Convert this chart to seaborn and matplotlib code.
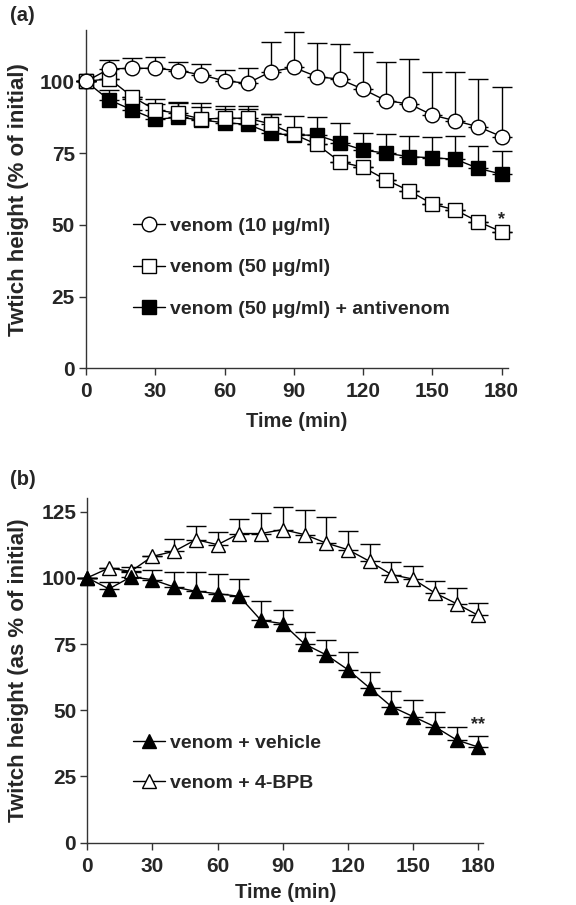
import numpy as np
import matplotlib
matplotlib.use("Agg")
import matplotlib.pyplot as plt
import seaborn as sns

# time points (min)
t = list(range(0, 181, 10))

# panel (a)
v10 = [100, 104.4, 104.6, 104.6, 103.8, 102.3, 100.2, 99.4, 103.4, 104.9,
       101.7, 100.8, 97.3, 93.3, 92.2, 88.3, 86.3, 84.2, 80.8]
v10_err = [0, 3.1, 3.6, 3.8, 3.0, 3.8, 3.8, 5.4, 10.3, 12.4,
           11.6, 12.4, 13.0, 13.6, 15.5, 15.0, 17.0, 16.7, 17.4]
v50 = [100, 101, 94.7, 90.1, 88.9, 86.9, 87.2, 87.2, 85.2, 81.6,
       78.1, 72.0, 70.1, 65.7, 61.9, 57.3, 55.2, 51.1, 47.6]
v50_err = [0, 0, 0, 3.8, 4.1, 5.5, 4.3, 4.3, 3.5, 0,
           0, 0, 0, 0, 0, 0, 0, 0, 0]
v50av = [100, 93.6, 90.1, 86.8, 87.5, 86.6, 85.6, 85.1, 81.9, 81.3,
         81.3, 78.7, 76.1, 75.0, 73.8, 73.4, 72.9, 69.7, 67.7]
v50av_err = [0, 3.4, 3.9, 5.2, 5.0, 4.4, 4.9, 5.4, 6.6, 6.7,
             6.2, 6.9, 6.1, 6.6, 7.2, 7.4, 8.1, 7.9, 8.2]

# panel (b)
veh = [100, 95.8, 100.3, 99.3, 96.5, 94.9, 94.0, 93.0, 83.9, 82.7,
       75.0, 70.9, 65.3, 58.4, 51.4, 47.6, 43.8, 38.8, 36.1]
veh_err = [0, 2.6, 1.7, 3.7, 5.5, 7.1, 7.6, 6.7, 7.4, 5.2,
           4.7, 5.7, 6.5, 6.2, 6.0, 6.3, 5.7, 4.8, 4.2]
bpb = [100, 103.7, 102.4, 108.1, 110.0, 114.4, 112.5, 116.7, 116.7, 118.2,
       116.3, 113.1, 110.6, 106.2, 101.2, 99.5, 94.3, 90.2, 85.8]
bpb_err = [0, 0, 1.5, 0, 4.8, 5.3, 4.7, 5.6, 7.8, 8.6,
           9.4, 9.7, 6.9, 6.7, 4.8, 4.8, 4.6, 5.9, 4.7]

sns.set_style("ticks")
plt.rcParams["font.family"] = ["Liberation Sans", "DejaVu Sans"]
plt.rcParams["font.weight"] = "bold"
plt.rcParams["axes.labelweight"] = "bold"

fig = plt.figure(figsize=(5.76, 9.05), dpi=100)
ax_a = fig.add_axes([86 / 576, 0.593, 422 / 576, 0.374])
ax_b = fig.add_axes([87.3 / 576, 0.0688, 396 / 576, 0.3806])


def series(ax, y, err, marker, face, label, z, ms):
    ax.errorbar(t, y, yerr=[np.zeros(len(err)), err], fmt="none", ecolor="black",
                elinewidth=1, capsize=7, capthick=1, zorder=2, clip_on=False)
    sns.lineplot(x=t, y=y, ax=ax, color="black", linewidth=1, marker=marker,
                 markersize=ms, markerfacecolor=face, markeredgecolor="black",
                 markeredgewidth=1, label=label, zorder=z, clip_on=False)


series(ax_a, v50av, v50av_err, "s", "black", "venom (50 μg/ml) + antivenom", 3, 9.8)
series(ax_a, v50, v50_err, "s", "white", "venom (50 μg/ml)", 4, 9.8)
series(ax_a, v10, v10_err, "o", "white", "venom (10 μg/ml)", 5, 10.5)

series(ax_b, bpb, bpb_err, "^", "white", "venom + 4-BPB", 3, 10.5)
series(ax_b, veh, veh_err, "^", "black", "venom + vehicle", 4, 10.5)

ax_a.text(180, 52, "*", ha="center", va="center", fontsize=13, fontweight="bold")
ax_b.text(180, 44.5, "**", ha="center", va="center", fontsize=13, fontweight="bold")

for ax, ytop, xr, yticks, ylab, lx, xpad in [
        (ax_a, 118, 182.8, [0, 25, 50, 75, 100], "Twtich height (% of initial)", -0.135, 8),
        (ax_b, 130, 182.3, [0, 25, 50, 75, 100, 125], "Twitch height (as % of initial)", -0.147, 5)]:
    ax.set_xlim(0, xr)
    ax.set_ylim(0, ytop)
    ax.set_xticks(range(0, 181, 30))
    ax.set_yticks(yticks)
    ax.set_xlabel("Time (min)", fontsize=14.5, labelpad=xpad)
    ax.set_ylabel(ylab, fontsize=16)
    ax.yaxis.set_label_coords(lx, 0.5)
    ax.tick_params(labelsize=15, length=5, width=1, color="#333333")
    ax.tick_params(axis="x", pad=5)
    ax.tick_params(axis="y", pad=3)
    for s in ["left", "bottom"]:
        ax.spines[s].set_linewidth(1)
        ax.spines[s].set_color("#333333")
    sns.despine(ax=ax)

h, l = ax_a.get_legend_handles_labels()
order = [l.index("venom (10 μg/ml)"), l.index("venom (50 μg/ml)"),
         l.index("venom (50 μg/ml) + antivenom")]
ax_a.legend([h[i] for i in order], [l[i] for i in order], loc="upper left",
            bbox_to_anchor=(0.111, 0.447), frameon=False, fontsize=14,
            handlelength=1.65, handletextpad=0.25, labelspacing=1.24,
            borderpad=0, borderaxespad=0)

h, l = ax_b.get_legend_handles_labels()
order = [l.index("venom + vehicle"), l.index("venom + 4-BPB")]
ax_b.legend([h[i] for i in order], [l[i] for i in order], loc="upper left",
            bbox_to_anchor=(0.115, 0.315), frameon=False, fontsize=14,
            handlelength=1.65, handletextpad=0.25, labelspacing=1.16,
            borderpad=0, borderaxespad=0)

fig.text(0.017, 0.983, "(a)", fontsize=14.5, fontweight="bold", va="center", ha="left")
fig.text(0.017, 0.470, "(b)", fontsize=14.5, fontweight="bold", va="center", ha="left")

fig.savefig("out.png", dpi=100)
